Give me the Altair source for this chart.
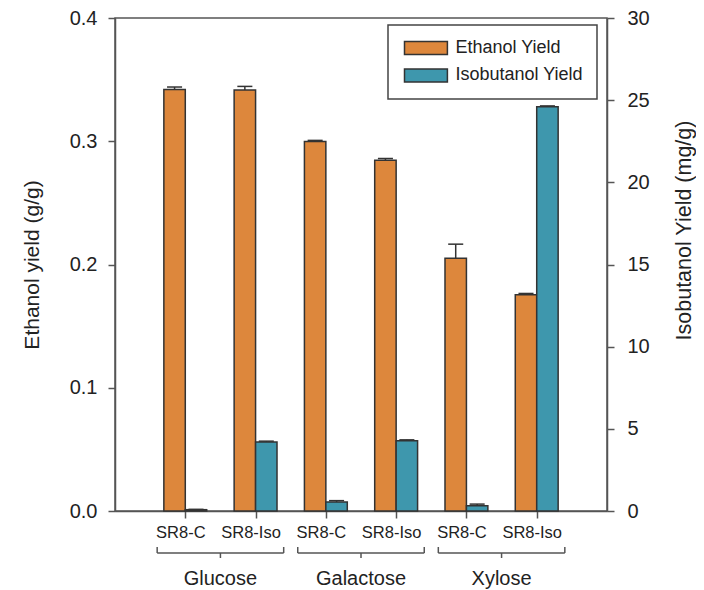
import json
import altair as alt
import pandas as pd

# ---- data ----
groups = ["Glucose", "Galactose", "Xylose"]
categories = ["SR8-C", "SR8-Iso", "SR8-C", "SR8-Iso", "SR8-C", "SR8-Iso"]
category_group = ["Glucose", "Glucose", "Galactose", "Galactose", "Xylose", "Xylose"]
ethanol_yield = [0.342, 0.3415, 0.2997, 0.2845, 0.205, 0.1755]
ethanol_err = [0.002, 0.003, 0.001, 0.0015, 0.0115, 0.001]
isobutanol_yield = [0.08, 4.2, 0.55, 4.28, 0.32, 24.6]
isobutanol_err = [0.02, 0.05, 0.08, 0.05, 0.1, 0.05]
series = ["Ethanol Yield", "Isobutanol Yield"]
colors = ["#DD873C", "#3E97AD"]
ethanol_ticks = [0.0, 0.1, 0.2, 0.3, 0.4]
isobutanol_ticks = [0, 5, 10, 15, 20, 25, 30]

# ---- layout constants (not data) ----
BAR_W = 0.305   # bar width in category units
CAP_HALF = 0.107
BRACKET_HALF = 0.9
FONT = "Liberation Sans"
STROKE = "#333333"

pos = list(range(1, len(categories) + 1))
df = pd.DataFrame({
    "pos": pos,
    "cat": categories,
    "grp": category_group,
    "eth": ethanol_yield,
    "eth_top": [v + e for v, e in zip(ethanol_yield, ethanol_err)],
    "iso": isobutanol_yield,
    "iso_top": [v + e for v, e in zip(isobutanol_yield, isobutanol_err)],
})
df["e_x"] = df["pos"] - BAR_W
df["e_c"] = df["pos"] - BAR_W / 2
df["i_x2"] = df["pos"] + BAR_W
df["i_c"] = df["pos"] + BAR_W / 2
df["e_cl"] = df["e_c"] - CAP_HALF
df["e_cr"] = df["e_c"] + CAP_HALF
df["i_cl"] = df["i_c"] - CAP_HALF
df["i_cr"] = df["i_c"] + CAP_HALF
df["s_e"] = series[0]
df["s_i"] = series[1]

gdf = pd.DataFrame({"grp": groups})
gdf["c"] = [sum(p for p, g in zip(pos, category_group) if g == name) /
            category_group.count(name) for name in groups]
gdf["l"] = gdf["c"] - BRACKET_HALF
gdf["r"] = gdf["c"] + BRACKET_HALF

xscale = alt.Scale(domain=[0, len(categories) + 1], nice=False, zero=False)
label_expr = json.dumps(categories) + "[datum.value - 1]"
x_axis = alt.Axis(values=pos, labelExpr=label_expr, title=None, grid=False,
                  labelFontSize=16.5, labelPadding=6, labelOffset=-5)

color_scale = alt.Scale(domain=series, range=colors)
legend = alt.Legend(title=None, orient="none", legendX=273, legendY=7,
                    symbolType="M-1,-1H5.6V1H-1Z", symbolSize=169,
                    symbolStrokeColor=STROKE, symbolStrokeWidth=1.5,
                    symbolOpacity=1, labelFontSize=18, labelFont=FONT,
                    labelColor="#222222", labelOffset=35.5, rowPadding=7.4,
                    padding=14, strokeColor="#444444", fillColor="white")

ey = alt.Scale(domain=[0, 0.4], nice=False)
iy = alt.Scale(domain=[0, 30], nice=False)

left_axis = alt.Axis(orient="left", values=ethanol_ticks, format=".1f",
                     title="Ethanol yield (g/g)", labelFontSize=20, labelPadding=11,
                     titleFontSize=21, titleAngle=-90, titleX=-83, titleY=246.5,
                     titleAlign="center", titleBaseline="middle", grid=False)
right_axis = alt.Axis(orient="right", values=isobutanol_ticks,
                      title="Isobutanol Yield (mg/g)", labelFontSize=20, labelPadding=13,
                      titleFontSize=21.5, titleAngle=-90, titleX=77, titleY=212,
                      titleAlign="center", titleBaseline="middle", grid=False)


def X(field):
    return alt.X(field, scale=xscale, axis=x_axis)


def YE(field):
    return alt.Y(field, scale=ey, axis=left_axis)


def YI(field):
    return alt.Y(field, scale=iy, axis=right_axis)


base = alt.Chart(df)

eth_bars = base.mark_bar(stroke=STROKE, strokeWidth=1.5, opacity=1).encode(
    x=X("e_x:Q"),
    x2="pos:Q",
    y=YE("eth:Q"),
    y2=alt.datum(0),
    color=alt.Color("s_e:N", scale=color_scale, legend=legend),
)
eth_err = base.mark_rule(color=STROKE, strokeWidth=1.5).encode(
    x=X("e_c:Q"),
    y=YE("eth:Q"),
    y2="eth_top:Q",
)
eth_cap = base.mark_rule(color=STROKE, strokeWidth=1.5).encode(
    x=X("e_cl:Q"),
    x2="e_cr:Q",
    y=YE("eth_top:Q"),
)
eth_layer = alt.layer(eth_bars, eth_err, eth_cap)

iso_bars = base.mark_bar(stroke=STROKE, strokeWidth=1.5, opacity=1).encode(
    x=X("pos:Q"),
    x2="i_x2:Q",
    y=YI("iso:Q"),
    y2=alt.datum(0),
    color=alt.Color("s_i:N", scale=color_scale, legend=legend),
)
iso_err = base.mark_rule(color=STROKE, strokeWidth=1.5).encode(
    x=X("i_c:Q"),
    y=YI("iso:Q"),
    y2="iso_top:Q",
)
iso_cap = base.mark_rule(color=STROKE, strokeWidth=1.5).encode(
    x=X("i_cl:Q"),
    x2="i_cr:Q",
    y=YI("iso_top:Q"),
)
iso_layer = alt.layer(iso_bars, iso_err, iso_cap)

gbase = alt.Chart(gdf)
BR = "#555555"
br_left = gbase.mark_rule(color=BR, strokeWidth=1.5).encode(
    x=X("l:Q"), y=alt.value(529), y2=alt.value(535))
br_right = gbase.mark_rule(color=BR, strokeWidth=1.5).encode(
    x=X("r:Q"), y=alt.value(529), y2=alt.value(535))
br_h = gbase.mark_rule(color=BR, strokeWidth=1.5).encode(
    x=X("l:Q"), x2="r:Q", y=alt.value(535))
br_mid = gbase.mark_rule(color=BR, strokeWidth=1.5).encode(
    x=X("c:Q"), y=alt.value(535), y2=alt.value(540))
glabels = gbase.mark_text(font=FONT, fontSize=20, color="#222222",
                          baseline="middle", align="center").encode(
    x=X("c:Q"), y=alt.value(561), text="grp:N")
deco = alt.layer(br_left, br_right, br_h, br_mid, glabels)

chart = alt.layer(eth_layer, iso_layer, deco).resolve_scale(
    y="independent"
).properties(
    width=492, height=493,
    autosize=alt.AutoSizeParams(type="none"),
    padding={"left": 107, "top": 10, "right": 89, "bottom": 80},
).configure_view(
    stroke="#555555", strokeWidth=1.5
).configure_axis(
    domainColor="#555555", domainWidth=1.5, tickColor="#555555", tickWidth=1.5,
    tickSize=7, labelFont=FONT, titleFont=FONT, titleFontWeight="normal",
    labelColor="#222222", titleColor="#222222", grid=False,
).configure_legend(
    strokeWidth=1.5
)

chart.save("out.html", embed_options={"renderer": "svg", "actions": False})
